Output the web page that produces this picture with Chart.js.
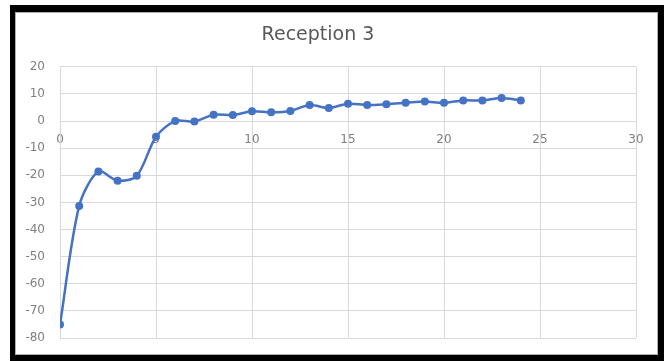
<!DOCTYPE html>
<html>
<head>
<meta charset="utf-8">
<title>Reception 3</title>
<script src="https://cdn.jsdelivr.net/npm/chart.js@4/dist/chart.umd.min.js"></script>
<style>
  html, body { margin: 0; padding: 0; background: #ffffff; width: 665px; height: 361px; overflow: hidden; }
  #frame {
    position: absolute; left: 10px; top: 5px; width: 654px; height: 356px;
    box-sizing: border-box; border-style: solid; border-color: #000;
    border-width: 7px 6px 6px 5px;
    box-shadow: inset 0 0 0 1px #b0b0b0;
  }
  #chart { position: absolute; left: 0; top: 0; }
</style>
</head>
<body>
<div id="frame"></div>
<canvas id="chart" width="665" height="361"></canvas>
<script>
// Measurement index and reading for each sample
const sampleIndex = [0, 1, 2, 3, 4, 5, 6, 7, 8, 9, 10, 11, 12, 13, 14, 15, 16, 17, 18, 19, 20, 21, 22, 23, 24];
const readings = [-75, -31.3, -18.6, -22, -20.2, -5.8, 0, -0.2, 2.3, 2.2, 3.6, 3.2, 3.7, 5.9, 4.8, 6.4, 5.9, 6.2, 6.7, 7.2, 6.7, 7.6, 7.6, 8.5, 7.6];

// Axis ranges
const xTicks = [0, 5, 10, 15, 20, 25, 30];
const yTicks = [-80, -70, -60, -50, -40, -30, -20, -10, 0, 10, 20];

const chartTitle = 'Reception 3';

const points = sampleIndex.map((x, i) => ({ x: x, y: readings[i] }));

const gridColor = '#d9d9d9';
const labelColor = '#7f7f7f';
const lineColor = '#4472c4';

new Chart(document.getElementById('chart'), {
  type: 'line',
  data: {
    datasets: [{
      data: points,
      borderColor: lineColor,
      backgroundColor: lineColor,
      borderWidth: 2.5,
      pointRadius: 4,
      pointBorderWidth: 0,
      pointBackgroundColor: lineColor,
      tension: 0.3,
      fill: false
    }]
  },
  options: {
    responsive: false,
    animation: false,
    devicePixelRatio: 1,
    layout: { padding: { top: 0, right: 29, bottom: 23, left: 0 } },
    plugins: {
      legend: { display: false },
      tooltip: { enabled: false },
      title: {
        display: true,
        text: chartTitle,
        color: '#595959',
        font: { family: 'DejaVu Sans', size: 19, weight: 'normal' },
        padding: { top: 24, bottom: 20 }
      }
    },
    scales: {
      x: {
        type: 'linear',
        position: { y: 0 },
        min: xTicks[0],
        max: xTicks[xTicks.length - 1],
        afterBuildTicks: (scale) => { scale.ticks = xTicks.map(v => ({ value: v })); },
        grid: { color: gridColor, lineWidth: 1, drawTicks: false },
        border: { color: gridColor, width: 1 },
        ticks: {
          color: labelColor,
          padding: 12,
          maxRotation: 0,
          font: { family: 'DejaVu Sans', size: 12 }
        }
      },
      y: {
        type: 'linear',
        position: 'left',
        min: yTicks[0],
        max: yTicks[yTicks.length - 1],
        afterBuildTicks: (scale) => { scale.ticks = yTicks.map(v => ({ value: v })); },
        afterFit: (scale) => { scale.width = 60; },
        grid: { color: gridColor, lineWidth: 1, drawTicks: false },
        border: { color: gridColor, width: 1 },
        ticks: {
          color: labelColor,
          padding: 15,
          font: { family: 'DejaVu Sans', size: 12 }
        }
      }
    }
  }
});
</script>
</body>
</html>
